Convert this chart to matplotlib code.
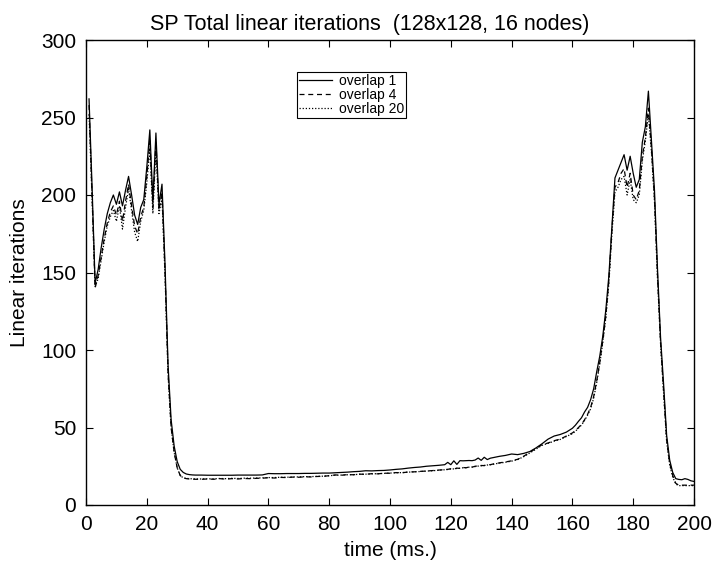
import matplotlib
matplotlib.use("Agg")
import matplotlib.pyplot as plt

plt.rcParams['font.family'] = ['Liberation Sans', 'DejaVu Sans']

title = "SP Total linear iterations  (128x128, 16 nodes)"
xlabel = "time (ms.)"
ylabel = "Linear iterations"
series_names = ["overlap 1", "overlap 4", "overlap 20"]
xticks = [0, 20, 40, 60, 80, 100, 120, 140, 160, 180, 200]
yticks = [0, 50, 100, 150, 200, 250, 300]

time = (list(range(1, 37)) + list(range(38, 118, 2)) + list(range(118, 136))
        + list(range(136, 160, 2)) + list(range(160, 201)))

overlap1 = [
    # 1..36
    262, 205, 143, 152, 166, 178, 188, 195, 200, 194, 202, 193, 203, 212, 200, 187, 181, 192,
    197, 218, 242, 196, 240, 194, 207, 155, 90, 55, 38, 28, 23, 21, 20, 19.6, 19.4, 19.3,
    # 38..116 step 2
    19.3, 19.2, 19.2, 19.2, 19.2, 19.2, 19.3, 19.3, 19.3, 19.3, 19.4, 20.3, 20.2, 20.2,
    20.3, 20.3, 20.3, 20.4, 20.4, 20.5, 20.6, 20.6, 20.8, 21.0, 21.2, 21.5, 21.7, 22.1,
    22.0, 22.2, 22.3, 22.6, 23.0, 23.3, 23.8, 24.2, 24.5, 25.0, 25.3, 25.6,
    # 118..135
    26.0, 27.5, 26.0, 28.5, 26.2, 28.6, 28.5, 28.6, 28.7, 28.6, 29.0, 30.3, 28.8, 30.8,
    29.3, 30.2, 30.6, 31.0,
    # 136..158 step 2
    31.4, 32.0, 32.9, 32.5, 33.3, 34.5, 36.8, 39.5, 42.5, 44.5, 45.5, 47.0,
    # 160..200
    49.5, 51.5, 54, 56.3, 60, 63, 68, 75, 86, 96, 109, 126, 148, 180, 211, 216, 221,
    226, 216, 225, 214, 205, 210, 234, 244, 267, 235, 203, 152, 108, 78, 45, 29, 21,
    17, 16.5, 16.3, 17, 16.5, 15.6, 15.2,
]

overlap4 = [
    258, 200, 140, 148, 160, 172, 182, 189, 193, 187, 196, 183, 196, 207, 193, 180, 175, 186,
    192, 212, 235, 192, 235, 190, 202, 150, 85, 50, 34, 24, 19, 17.5, 17, 16.8, 16.7, 16.6,
    16.6, 16.8, 16.6, 17.0, 16.7, 17.0, 16.8, 17.1, 17.0, 17.2, 17.3, 17.6, 17.4, 17.8,
    17.7, 18.0, 17.9, 18.2, 18.1, 18.4, 18.5, 18.9, 19.4, 19.2, 19.6, 19.5, 19.9, 19.8,
    20.2, 20.1, 20.5, 20.5, 20.9, 20.8, 21.3, 21.4, 21.7, 21.9, 22.2, 22.5,
    22.8, 23.0, 23.4, 23.2, 23.8, 23.6, 24.2, 24.0, 24.5, 24.4, 25.0, 25.2, 25.5, 25.4,
    26.0, 26.0, 26.5, 26.8,
    27.2, 27.8, 28.5, 29.5, 31.5, 34.0, 36.5, 38.9, 40.0, 41.5, 42.5, 44.5,
    46.5, 48, 50, 52, 55, 58.5, 63, 70, 80, 92, 106, 122, 145, 178, 205, 208, 214,
    217, 205, 214, 200, 197, 203, 225, 237, 256, 230, 198, 148, 105, 74, 42, 27, 19,
    14, 12.8, 12.8, 12.8, 12.8, 12.8, 12.8,
]

overlap20 = [
    252, 198, 141, 146, 158, 170, 180, 186, 190, 183, 193, 178, 192, 204, 190, 176, 170, 183,
    190, 208, 230, 188, 230, 188, 198, 148, 84, 50, 34, 24, 19, 17.5, 17.2, 17.0, 16.9, 16.8,
    16.8, 16.9, 16.9, 17.1, 17.0, 17.2, 17.1, 17.3, 17.3, 17.4, 17.5, 17.7, 17.7, 17.9,
    17.9, 18.1, 18.1, 18.3, 18.3, 18.5, 18.6, 18.9, 19.2, 19.3, 19.5, 19.6, 19.8, 19.9,
    20.1, 20.2, 20.4, 20.6, 20.8, 20.9, 21.2, 21.4, 21.6, 21.9, 22.1, 22.4,
    22.7, 22.9, 23.2, 23.3, 23.6, 23.7, 24.0, 24.1, 24.4, 24.5, 24.8, 25.1, 25.3, 25.5,
    25.8, 26.0, 26.3, 26.7,
    27.0, 27.6, 28.3, 29.3, 31.2, 33.6, 36.0, 38.5, 39.8, 41.2, 42.3, 44.2,
    46.0, 47.6, 49.6, 51.6, 54.5, 58, 62, 69, 79, 91, 105, 121, 143, 175, 202, 205, 210,
    212, 200, 210, 197, 195, 200, 222, 235, 252, 228, 196, 146, 104, 73, 41, 26, 18,
    13.5, 12.5, 12.5, 12.5, 12.5, 12.5, 12.5,
]

fig = plt.figure(figsize=(7.14, 5.66), dpi=100)
ax = fig.add_axes([86 / 714, 61 / 566, 608 / 714, 465 / 566])

ax.plot(time, overlap1, color='black', linestyle='-', linewidth=0.9, label=series_names[0])
ax.plot(time, overlap4, color='black', linestyle=(0, (4, 3)), linewidth=0.9, label=series_names[1])
ax.plot(time, overlap20, color='black', linestyle=(0, (1, 1.5)), linewidth=0.9, label=series_names[2])

ax.set_xlim(0, 200)
ax.set_ylim(0, 300)
ax.set_xticks(xticks)
ax.set_yticks(yticks)
ax.tick_params(direction='in', top=True, right=True, labelsize=15, length=5, width=0.8, pad=7)
for s in ax.spines.values():
    s.set_linewidth(1.0)

ax.set_title(title, fontsize=15.5, pad=7, x=0.467)
ax.set_xlabel(xlabel, fontsize=15, labelpad=5)
ax.set_ylabel(ylabel, fontsize=15, labelpad=9)

leg = ax.legend(loc='upper left', bbox_to_anchor=(0.347, 0.931), fontsize=10,
                frameon=True, fancybox=False, edgecolor='black', framealpha=1,
                handlelength=2.4, borderpad=0.15, labelspacing=0.0, handletextpad=0.45,
                borderaxespad=0)
leg.get_frame().set_linewidth(0.8)

fig.savefig("out.png", dpi=100)
